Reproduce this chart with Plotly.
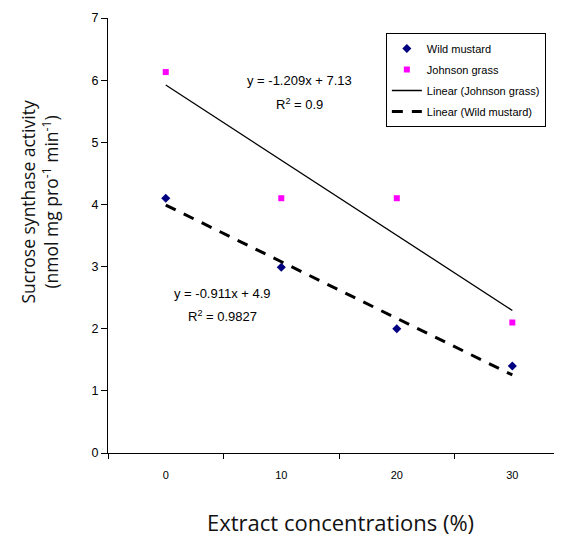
import plotly.graph_objects as go

concentrations = [0, 10, 20, 30]
wild_mustard = [4.1, 2.99, 2.0, 1.4]
johnson_grass = [6.13, 4.1, 4.1, 2.1]

# Excel trendline coefficients (x = category index 1..4)
jg_slope, jg_intercept = -1.209, 7.13
wm_slope, wm_intercept = -0.911, 4.9
jg_r2 = "0.9"
wm_r2 = "0.9827"

x_title = "Extract concentrations (%)"
y_title = "Sucrose synthase activity<br>(nmol mg pro<sup>-1</sup> min<sup>-1</sup>)"

idx = [i + 1 for i in range(len(concentrations))]
jg_fit = [jg_slope * i + jg_intercept for i in idx]
wm_fit = [wm_slope * i + wm_intercept for i in idx]

narrow = "Liberation Sans Narrow, Arial Narrow, Liberation Sans, Arial"
xtick_font = dict(family=narrow, size=11, color="black")
ytick_font = dict(family="Liberation Sans, Arial", size=12.5, color="black")

fig = go.Figure()
fig.add_trace(go.Scatter(x=concentrations, y=wild_mustard, mode="markers", name="Wild mustard",
                         legendgroup="a", marker=dict(symbol="diamond", color="#000080", size=7)))
fig.add_trace(go.Scatter(x=concentrations, y=johnson_grass, mode="markers", name="Johnson grass",
                         legendgroup="b", marker=dict(symbol="square", color="#FF00FF", size=6)))
fig.add_trace(go.Scatter(x=[concentrations[0], concentrations[-1]], y=[jg_fit[0], jg_fit[-1]], mode="lines",
                         legendgroup="c", name="Linear (Johnson grass)", line=dict(color="black", width=1.3)))
fig.add_trace(go.Scatter(x=[concentrations[0], concentrations[-1]], y=[wm_fit[0], wm_fit[-1]], mode="lines",
                         legendgroup="d", name="Linear (Wild mustard)",
                         line=dict(color="black", width=3, dash="11px,9px")))

ann_font = dict(family=narrow, size=13, color="black")
fig.add_annotation(x=11.6, y=6.0, text=f"y = {jg_slope}x + {jg_intercept}", showarrow=False, font=ann_font)
fig.add_annotation(x=11.6, y=5.62, text=f"R<sup>2</sup> = {jg_r2}", showarrow=False, font=ann_font)
fig.add_annotation(x=4.9, y=2.57, text=f"y = {wm_slope}x + {wm_intercept}", showarrow=False, font=ann_font)
fig.add_annotation(x=4.9, y=2.2, text=f"R<sup>2</sup> = {wm_r2}", showarrow=False, font=ann_font)

# axis titles as annotations for exact placement
fig.add_annotation(xref="paper", yref="paper", x=0.512, y=-0.158, xanchor="center", yanchor="middle",
                   text=x_title, showarrow=False,
                   font=dict(family="Open Sans, Noto Sans, sans-serif", size=22, color="#111111"))
fig.add_annotation(xref="paper", yref="paper", x=-0.151, y=0.579, xanchor="center", yanchor="middle",
                   text=y_title, showarrow=False, textangle=-90,
                   font=dict(family="Open Sans, Noto Sans, sans-serif", size=17.5, color="#111111"))

fig.update_layout(
    width=562, height=537,
    margin=dict(l=100, r=8, t=10, b=92),
    paper_bgcolor="white", plot_bgcolor="white",
    showlegend=True,
    legend=dict(x=0.612, y=0.9655, xanchor="left", yanchor="top",
                bordercolor="black", borderwidth=1, bgcolor="white",
                font=dict(family=narrow, size=11, color="black"),
                traceorder="grouped", tracegroupgap=2, itemwidth=30),
    xaxis=dict(range=[-5.0, 34.3], tickvals=concentrations, ticktext=[str(c) for c in concentrations],
               ticks="", showline=True, linecolor="black", linewidth=1, showgrid=False, zeroline=False,
               tickfont=xtick_font, ticklabelstandoff=12, automargin=False,
               minor=dict(tickvals=[-5, 5, 15, 25], ticks="outside", ticklen=5, tickcolor="black", showgrid=False)),
    yaxis=dict(range=[0, 7], dtick=1, ticks="outside", ticklen=6, tickcolor="black",
               showline=True, linecolor="black", linewidth=1, showgrid=False, zeroline=False,
               tickfont=ytick_font, automargin=False),
)

fig.write_html("out.html")
